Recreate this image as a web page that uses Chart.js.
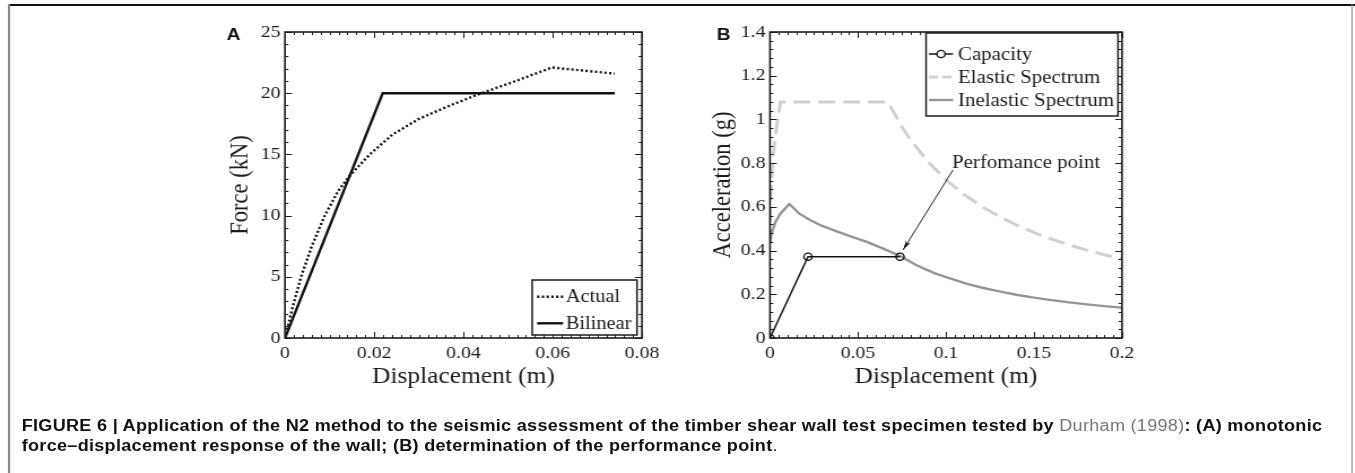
<!DOCTYPE html>
<html>
<head>
<meta charset="utf-8">
<script src="https://cdn.jsdelivr.net/npm/chart.js@4.4.0/dist/chart.umd.min.js"></script>
<style>
html,body{margin:0;padding:0;background:#fff;width:1355px;height:473px;overflow:hidden}
#wrap{position:absolute;left:0;top:0;width:1200px;height:473px;transform:scaleX(1.13);transform-origin:0 0}
.topline{position:absolute;left:7.5px;top:4px;width:1193px;height:2px;background:#111}
.vline{position:absolute;top:4px;width:1.4px;height:469px;background:#8a8a8a}
canvas{position:absolute;top:0}
#cap{position:absolute;left:19.2px;top:416px;font-family:'Liberation Sans',Arial,Helvetica,sans-serif;font-size:16px;letter-spacing:0.25px;line-height:19.5px;color:#111;white-space:nowrap}
#cap b{font-weight:bold}
#cap .ref{color:#777;font-weight:normal}
</style>
</head>
<body>
<div id="wrap">
  <div class="topline"></div>
  <div class="vline" style="left:7.3px"></div>
  <div class="vline" style="left:1196px"></div>
  <canvas id="cA" width="420" height="400" style="left:170px;width:420px;height:400px"></canvas>
  <canvas id="cB" width="420" height="400" style="left:600px;width:420px;height:400px"></canvas>
  <div id="cap"><b>FIGURE 6 | Application of the N2 method to the seismic assessment of the timber shear wall test specimen tested by </b><span class="ref">Durham (1998)</span><b>: (A) monotonic</b><br><b>force–displacement response of the wall; (B) determination of the performance point</b>.</div>
</div>
<script>
// ---------- Panel A data ----------
const aXTicks = [0, 0.02, 0.04, 0.06, 0.08];
const aXLabels = ['0', '0.02', '0.04', '0.06', '0.08'];
const aYTicks = [0, 5, 10, 15, 20, 25];
const aYLabels = ['0', '5', '10', '15', '20', '25'];
const actualX = [0, 0.0017, 0.0036, 0.006, 0.0089, 0.0119, 0.0146, 0.019, 0.024, 0.030, 0.037, 0.044, 0.051, 0.0598, 0.0739];
const actualY = [0, 2.5, 5, 7.5, 10, 12, 13.3, 15, 16.6, 17.9, 19.0, 20.0, 20.9, 22.1, 21.6];
const bilinearX = [0, 0.0219, 0.0739];
const bilinearY = [0, 20, 20];

// ---------- Panel B data ----------
const bXTicks = [0, 0.05, 0.1, 0.15, 0.2];
const bXLabels = ['0', '0.05', '0.1', '0.15', '0.2'];
const bYTicks = [0, 0.2, 0.4, 0.6, 0.8, 1, 1.2, 1.4];
const bYLabels = ['0', '0.2', '0.4', '0.6', '0.8', '1', '1.2', '1.4'];
const capacityX = [0, 0.0216, 0.0739];
const capacityY = [0, 0.372, 0.372];
const elasticX = [0, 0.0004, 0.0011, 0.0022, 0.0038, 0.006, 0.067, 0.075, 0.08, 0.09, 0.1, 0.11, 0.12, 0.13, 0.14, 0.15, 0.16, 0.17, 0.18, 0.19, 0.2];
const elasticY = [0.43, 0.65, 0.76, 0.86, 0.97, 1.08, 1.08, 0.965, 0.905, 0.804, 0.724, 0.658, 0.603, 0.557, 0.517, 0.483, 0.452, 0.426, 0.402, 0.381, 0.362];
const inelasticX = [0, 0.001, 0.003, 0.006, 0.011, 0.0165, 0.0227, 0.029, 0.036, 0.045, 0.055, 0.064, 0.074, 0.083, 0.093, 0.1, 0.112, 0.12, 0.131, 0.14, 0.15, 0.16, 0.169, 0.18, 0.19, 0.2];
const inelasticY = [0.435, 0.48, 0.53, 0.57, 0.613, 0.57, 0.54, 0.515, 0.494, 0.467, 0.44, 0.41, 0.375, 0.334, 0.298, 0.278, 0.248, 0.231, 0.212, 0.198, 0.185, 0.173, 0.164, 0.154, 0.146, 0.139];

const perfNote = {text: 'Perfomance point', tx: 0.1455, ty: 0.80, x0: 0.104, y0: 0.769, x1: 0.0756, y1: 0.403};

const SERIF = "'Liberation Serif','Times New Roman',serif";
const SANS = "'Liberation Sans',Arial,sans-serif";
const INK = '#1c1c1c';

const pts = (xs, ys) => xs.map((x, i) => ({x: x, y: ys[i]}));

// ---------- plugins ----------
const frameTicks = {
  id: 'frameTicks',
  afterDatasetsDraw(chart, args, o) {
    const {ctx, chartArea: a} = chart;
    const sx = chart.scales.x, sy = chart.scales.y;
    ctx.save();
    ctx.strokeStyle = INK;
    ctx.lineWidth = 1;
    const nx = Math.round((sx.max - sx.min) / o.xMinor);
    for (let i = 0; i <= nx; i++) {
      const px = Math.round(sx.getPixelForValue(sx.min + i * o.xMinor)) + 0.5;
      const len = (i % o.xPer === 0) ? o.major : o.minor;
      ctx.beginPath();
      ctx.moveTo(px, a.bottom); ctx.lineTo(px, a.bottom - len);
      ctx.moveTo(px, a.top); ctx.lineTo(px, a.top + len);
      ctx.stroke();
    }
    const ny = Math.round((sy.max - sy.min) / o.yMinor);
    for (let i = 0; i <= ny; i++) {
      const py = Math.round(sy.getPixelForValue(sy.min + i * o.yMinor)) + 0.5;
      const len = (i % o.yPer === 0) ? o.major : o.minor;
      ctx.beginPath();
      ctx.moveTo(a.left, py); ctx.lineTo(a.left + len, py);
      ctx.moveTo(a.right, py); ctx.lineTo(a.right - len, py);
      ctx.stroke();
    }
    ctx.lineWidth = 1.6;
    ctx.strokeRect(a.left, a.top, a.right - a.left, a.bottom - a.top);
    ctx.restore();
  }
};

const boxLegend = {
  id: 'boxLegend',
  afterDraw(chart, args, o) {
    const {ctx, chartArea: a} = chart;
    const ds = chart.data.datasets;
    ctx.save();
    ctx.font = o.fontSize + 'px ' + SERIF;
    const tw = Math.max(...ds.map(d => ctx.measureText(d.label).width));
    const w = o.textOff + tw + o.padR;
    const h = o.h;
    const bx = a.right - o.dx - w;
    const by = o.anchor === 'top' ? a.top + o.dy : a.bottom - o.dy - h;
    ctx.fillStyle = '#fff';
    ctx.fillRect(bx, by, w, h);
    ctx.strokeStyle = INK; ctx.lineWidth = 1.5;
    ctx.strokeRect(bx, by, w, h);
    ds.forEach((d, i) => {
      const cy = by + o.rowStart + o.rowH * i;
      ctx.strokeStyle = d.borderColor;
      ctx.lineWidth = d.borderWidth;
      ctx.setLineDash(d.legendDash || d.borderDash || []);
      ctx.beginPath();
      ctx.moveTo(bx + o.sampleOff, cy);
      ctx.lineTo(bx + o.sampleOff + o.sampleLen, cy);
      ctx.stroke();
      ctx.setLineDash([]);
      if (d.pointRadius) {
        ctx.lineWidth = d.pointBorderWidth || 1.3;
        ctx.beginPath();
        ctx.arc(bx + o.sampleOff + o.sampleLen / 2, cy, d.pointRadius, 0, Math.PI * 2);
        ctx.fillStyle = '#fff'; ctx.fill();
        ctx.stroke();
      }
      ctx.fillStyle = INK;
      ctx.textBaseline = 'middle';
      ctx.textAlign = 'left';
      ctx.fillText(d.label, bx + o.textOff, cy + 1);
    });
    ctx.restore();
  }
};

const panelTag = {
  id: 'panelTag',
  afterDraw(chart, args, o) {
    const ctx = chart.ctx;
    ctx.save();
    ctx.font = 'bold 17px ' + SANS;
    ctx.fillStyle = '#111';
    ctx.textBaseline = 'alphabetic';
    ctx.fillText(o.text, o.x, o.y);
    ctx.restore();
  }
};

const arrowNote = {
  id: 'arrowNote',
  afterDatasetsDraw(chart, args, o) {
    if (!o || !o.text) return;
    const {ctx} = chart;
    const sx = chart.scales.x, sy = chart.scales.y;
    const X0 = sx.getPixelForValue(o.x0), Y0 = sy.getPixelForValue(o.y0);
    const X1 = sx.getPixelForValue(o.x1), Y1 = sy.getPixelForValue(o.y1);
    ctx.save();
    ctx.strokeStyle = '#111'; ctx.fillStyle = '#111'; ctx.lineWidth = 0.9;
    ctx.beginPath(); ctx.moveTo(X0, Y0); ctx.lineTo(X1, Y1); ctx.stroke();
    const ang = Math.atan2(Y1 - Y0, X1 - X0), L = 10, sp = 0.22;
    ctx.beginPath();
    ctx.moveTo(X1, Y1);
    ctx.lineTo(X1 - L * Math.cos(ang - sp), Y1 - L * Math.sin(ang - sp));
    ctx.lineTo(X1 - L * 0.7 * Math.cos(ang), Y1 - L * 0.7 * Math.sin(ang));
    ctx.lineTo(X1 - L * Math.cos(ang + sp), Y1 - L * Math.sin(ang + sp));
    ctx.closePath(); ctx.fill();
    ctx.font = o.fontSize + 'px ' + SERIF;
    ctx.fillStyle = INK; ctx.textAlign = 'center'; ctx.textBaseline = 'middle';
    ctx.fillText(o.text, sx.getPixelForValue(o.tx), sy.getPixelForValue(o.ty));
    ctx.restore();
  }
};

function axes(xmin, xmax, xt, xl, ymin, ymax, yt, yl, yTitle, yTitlePad, yWidth) {
  const tickFont = {family: SERIF, size: 17.5};
  const titleFont = {family: SERIF, size: 22.5};
  return {
    x: {
      type: 'linear', min: xmin, max: xmax,
      grid: {display: false, drawTicks: false}, border: {display: false},
      afterBuildTicks: s => { s.ticks = xt.map(v => ({value: v})); },
      afterFit: s => { s.height = 60; },
      ticks: {font: tickFont, color: INK, padding: 5, maxRotation: 0, autoSkip: false,
              callback: (v, i) => xl[i]},
      title: {display: true, text: 'Displacement (m)', font: titleFont, color: INK, padding: {top: 0, bottom: 7.5}}
    },
    y: {
      type: 'linear', min: ymin, max: ymax,
      grid: {display: false, drawTicks: false}, border: {display: false},
      afterBuildTicks: s => { s.ticks = yt.map(v => ({value: v})); },
      afterFit: s => { s.width = yWidth; },
      ticks: {font: tickFont, color: INK, padding: 4, autoSkip: false,
              callback: (v, i) => yl[i]},
      title: {display: true, text: yTitle, font: titleFont, color: INK, padding: {top: yTitlePad, bottom: 0}}
    }
  };
}

new Chart(document.getElementById('cA'), {
  type: 'line',
  data: {
    datasets: [
      {label: 'Actual', data: pts(actualX, actualY), borderColor: '#111', borderWidth: 2.4,
       borderDash: [2, 2.2], legendDash: [2, 2.2], pointRadius: 0, fill: false, tension: 0},
      {label: 'Bilinear', data: pts(bilinearX, bilinearY), borderColor: '#111', borderWidth: 2.4,
       pointRadius: 0, fill: false, tension: 0}
    ]
  },
  options: {
    responsive: false, animation: false, devicePixelRatio: 1,
    parsing: false,
    layout: {padding: {left: 0, top: 32, right: 21.9, bottom: 2}},
    scales: axes(0, 0.08, aXTicks, aXLabels, 0, 25, aYTicks, aYLabels, 'Force (kN)', 29.8, 82.2),
    plugins: {
      legend: {display: false}, tooltip: {enabled: false},
      frameTicks: {xMinor: 0.002, xPer: 10, yMinor: 1, yPer: 5, major: 6, minor: 3},
      boxLegend: {anchor: 'bottom', dx: 4.4, dy: 3, h: 55, rowStart: 16.7, rowH: 26.6,
                  sampleOff: 4.4, sampleLen: 23, textOff: 29.8, padR: 5, fontSize: 18},
      panelTag: {text: 'A', x: 30.6, y: 40}
    }
  },
  plugins: [frameTicks, arrowNote, boxLegend, panelTag]
});

new Chart(document.getElementById('cB'), {
  type: 'line',
  data: {
    datasets: [
      {label: 'Capacity', data: pts(capacityX, capacityY), borderColor: '#151515', borderWidth: 1.5,
       pointRadius: 3.6, pointBorderWidth: 1.4, pointBorderColor: '#151515', pointBackgroundColor: 'rgba(255,255,255,0)',
       fill: false, tension: 0, order: 0},
      {label: 'Elastic Spectrum', data: pts(elasticX, elasticY), borderColor: '#d0d0d0', borderWidth: 3,
       borderDash: [15, 7], legendDash: [8, 4], pointRadius: 0, fill: false, tension: 0, order: 2},
      {label: 'Inelastic Spectrum', data: pts(inelasticX, inelasticY), borderColor: '#959595', borderWidth: 2.4,
       pointRadius: 0, fill: false, tension: 0, order: 1}
    ]
  },
  options: {
    responsive: false, animation: false, devicePixelRatio: 1,
    parsing: false,
    layout: {padding: {left: 0, top: 32, right: 27.1, bottom: 2}},
    scales: axes(0, 0.2, bXTicks, bXLabels, 0, 1.4, bYTicks, bYLabels, 'Acceleration (g)', 26.3, 81.4),
    plugins: {
      legend: {display: false}, tooltip: {enabled: false},
      frameTicks: {xMinor: 0.005, xPer: 10, yMinor: 0.04, yPer: 5, major: 6, minor: 3},
      boxLegend: {anchor: 'top', dx: 3.5, dy: 1, h: 83, rowStart: 21, rowH: 23,
                  sampleOff: 2.6, sampleLen: 21.3, textOff: 28.3, padR: 3.4, fontSize: 18.5},
      arrowNote: Object.assign({fontSize: 18.5}, perfNote),
      panelTag: {text: 'B', x: 34.2, y: 40}
    }
  },
  plugins: [frameTicks, arrowNote, boxLegend, panelTag]
});
</script>
</body>
</html>
